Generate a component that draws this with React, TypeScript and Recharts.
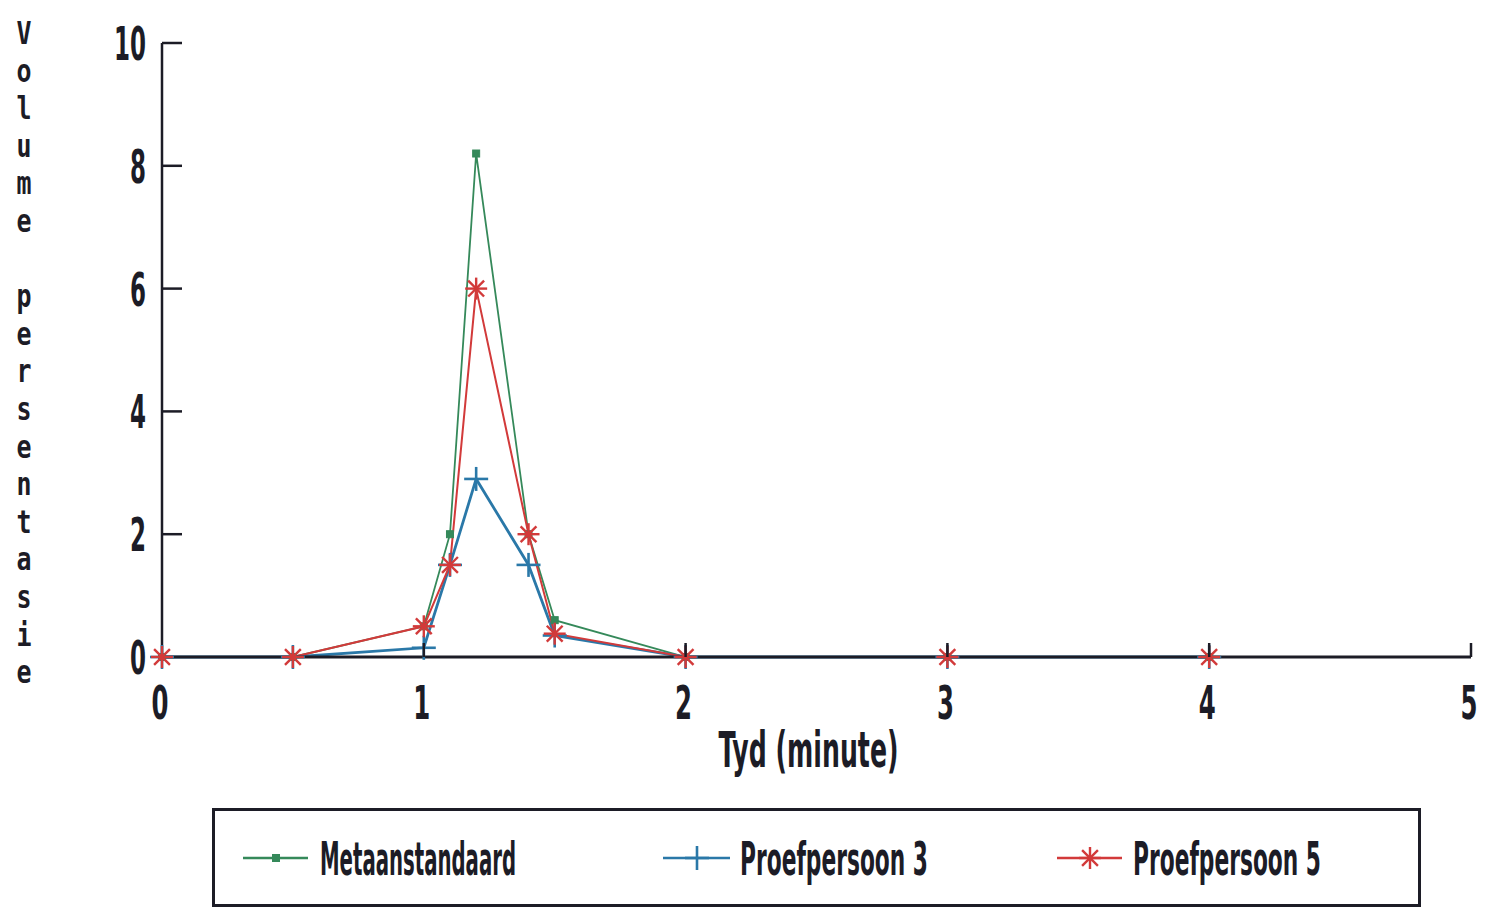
import React from 'react';
import { LineChart, Line, XAxis, YAxis } from 'recharts';

// ---- data ----
const timeValues = [0, 0.5, 1, 1.1, 1.2, 1.4, 1.5, 2, 3, 4];
const metaanValues = [0, 0, 0.5, 2.0, 8.2, 2.0, 0.6, 0, 0, 0];
const proef3Values = [0, 0, 0.15, 1.5, 2.9, 1.5, 0.35, 0, 0, 0];
const proef5Values = [0, 0, 0.5, 1.5, 6.0, 2.0, 0.38, 0, 0, 0];
const xTicks = [0, 1, 2, 3, 4, 5];
const yTicks = [0, 2, 4, 6, 8, 10];
const seriesNames = ['Metaanstandaard', 'Proefpersoon 3', 'Proefpersoon 5'];
const xAxisTitle = 'Tyd (minute)';
const yAxisTitle = 'Volume persentasie';

const data = timeValues.map((t, i) => ({
  t,
  m: metaanValues[i],
  p3: proef3Values[i],
  p5: proef5Values[i],
}));

// ---- styles ----
const FONT = "'DejaVu Sans Condensed', 'DejaVu Sans', sans-serif";
const MONO = "'DejaVu Sans Mono', 'Liberation Mono', monospace";
const AXIS = '#1c1c26';
const TEXT = '#1c1c26';
const GREEN = '#35895a';
const BLUE = '#2a78a8';
const RED = '#d23a3a';

// squeezed text: rendered at a natural width (em * size) then scaled horizontally to w
const SqText = (props: any) => {
  const { x, y, w, em, size, anchor = 'start', font = FONT, children } = props;
  const natural = em * size;
  const sx = w / natural;
  return (
    <text
      transform={`translate(${x},${y}) scale(${sx.toFixed(4)},1)`}
      x={0}
      y={0}
      textAnchor={anchor}
      fontFamily={font}
      fontWeight="bold"
      fontSize={size}
      fill={TEXT}
      textLength={natural}
      lengthAdjust="spacingAndGlyphs"
    >
      {children}
    </text>
  );
};

const SquareDot = (p: any) => {
  const { cx, cy } = p;
  if (cx == null || cy == null) return null;
  return <rect x={cx - 3.5} y={cy - 3.5} width={7} height={7} fill={GREEN} stroke={GREEN} strokeWidth={1} />;
};

const PlusDot = (p: any) => {
  const { cx, cy } = p;
  if (cx == null || cy == null) return null;
  return (
    <g stroke={BLUE} strokeWidth={2.6}>
      <line x1={cx - 12} x2={cx + 12} y1={cy} y2={cy} />
      <line x1={cx} x2={cx} y1={cy - 12} y2={cy + 12} />
    </g>
  );
};

const StarDot = (p: any) => {
  const { cx, cy } = p;
  if (cx == null || cy == null) return null;
  const r = 11;
  const d = r * 0.72;
  return (
    <g stroke={RED} strokeWidth={2.4}>
      <line x1={cx - r} x2={cx + r} y1={cy} y2={cy} />
      <line x1={cx} x2={cx} y1={cy - r} y2={cy + r} />
      <line x1={cx - d} x2={cx + d} y1={cy - d} y2={cy + d} />
      <line x1={cx - d} x2={cx + d} y1={cy + d} y2={cy - d} />
    </g>
  );
};

const DIGIT_EM = 0.626;

const YTick = (props: any) => {
  const { x, y, payload } = props;
  const s = String(payload.value);
  return (
    <g>
      {payload.value !== 0 && (
        <line x1={x} x2={x + 20} y1={y} y2={y} stroke={AXIS} strokeWidth={2.5} />
      )}
      <SqText x={x - 16} y={y + 17} w={s.length * 16} em={s.length * DIGIT_EM} size={46} anchor="end">
        {s}
      </SqText>
    </g>
  );
};

const XTick = (props: any) => {
  const { x, y, payload } = props;
  const s = String(payload.value);
  return (
    <g>
      {payload.value !== 0 && (
        <line x1={x} x2={x} y1={y} y2={y - 14} stroke={AXIS} strokeWidth={2.5} />
      )}
      <SqText x={x - 2} y={y + 62} w={s.length * 17} em={s.length * DIGIT_EM} size={47} anchor="middle">
        {s}
      </SqText>
    </g>
  );
};

const XTitle = (props: any) => {
  const vb = props.viewBox || { x: 161, width: 1310, y: 657 };
  const cx = vb.x + vb.width / 2 - 8;
  return (
    <SqText x={cx} y={vb.y + 110} w={180} em={6.55} size={49} anchor="middle">
      {xAxisTitle}
    </SqText>
  );
};

const YTitle = () => {
  const chars = yAxisTitle.split('');
  return (
    <g>
      {chars.map((c, i) =>
        c === ' ' ? null : (
          <SqText key={i} x={24} y={32 + i * 37.6 + 12} w={15} em={0.602} size={32} anchor="middle" font={MONO}>
            {c}
          </SqText>
        )
      )}
    </g>
  );
};

const legendLayout = [
  { x1: 31, x2: 96, mark: 64, tx: 108, w: 196, em: 8.95, color: GREEN, Dot: SquareDot },
  { x1: 451, x2: 518, mark: 485, tx: 528, w: 188, em: 7.77, color: BLUE, Dot: PlusDot },
  { x1: 845, x2: 910, mark: 878, tx: 921, w: 188, em: 7.77, color: RED, Dot: StarDot },
];

const LegendBox = () => (
  <div style={{ position: 'absolute', left: 212, top: 808, width: 1209, height: 99 }}>
    <svg width={1209} height={99}>
      <rect x={1.5} y={1.5} width={1206} height={96} fill="#fff" stroke={AXIS} strokeWidth={3} />
      {legendLayout.map((l, i) => (
        <g key={i}>
          <line x1={l.x1} x2={l.x2} y1={50} y2={50} stroke={l.color} strokeWidth={2.5} />
          <l.Dot cx={l.mark} cy={50} />
          <SqText x={l.tx} y={67} w={l.w} em={l.em} size={46}>
            {seriesNames[i]}
          </SqText>
        </g>
      ))}
    </svg>
  </div>
);

export default function App() {
  return (
    <div style={{ position: 'absolute', left: 0, top: 0, width: 1487, height: 910, background: '#fff' }}>
      <LineChart
        width={1487}
        height={800}
        data={data}
        margin={{ top: 43, right: 16, left: 62, bottom: 0 }}
      >
        <XAxis
          dataKey="t"
          type="number"
          domain={[0, 5]}
          ticks={xTicks}
          height={143}
          tickSize={0}
          tickMargin={0}
          tickLine={false}
          tick={<XTick />}
          axisLine={{ stroke: AXIS, strokeWidth: 3 }}
          label={{ content: (p: any) => <XTitle {...p} /> }}
        />
        <YAxis
          type="number"
          domain={[0, 10]}
          ticks={yTicks}
          width={100}
          tickSize={0}
          tickMargin={0}
          tickLine={false}
          tick={<YTick />}
          axisLine={{ stroke: AXIS, strokeWidth: 2.5 }}
          label={{ content: () => <YTitle /> }}
        />
        <Line
          dataKey="m"
          name={seriesNames[0]}
          type="linear"
          stroke={GREEN}
          strokeWidth={1.8}
          dot={(p: any) => <SquareDot key={'m' + p.index} {...p} />}
          isAnimationActive={false}
        />
        <Line
          dataKey="p3"
          name={seriesNames[1]}
          type="linear"
          stroke={BLUE}
          strokeWidth={2.8}
          dot={(p: any) => <PlusDot key={'b' + p.index} {...p} />}
          isAnimationActive={false}
        />
        <Line
          dataKey="p5"
          name={seriesNames[2]}
          type="linear"
          stroke={RED}
          strokeWidth={2}
          dot={(p: any) => <StarDot key={'r' + p.index} {...p} />}
          isAnimationActive={false}
        />
      </LineChart>
      <LegendBox />
    </div>
  );
}
